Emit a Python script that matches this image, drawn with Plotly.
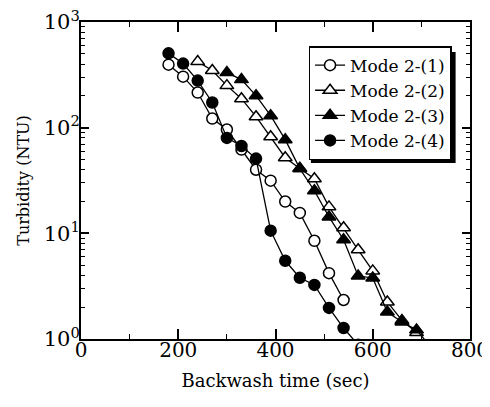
import plotly.graph_objects as go

# Data
t1 = [180, 210, 240, 270, 300, 330, 360, 390, 420, 450, 480, 510, 540]
y1 = [395, 304, 215, 122, 96, 62, 40, 31.5, 20, 15.6, 8.5, 4.2, 2.34]

t2 = [240, 270, 300, 330, 360, 390, 420, 450, 480, 510, 540, 570, 600, 630, 660, 690]
y2 = [422, 347, 250, 188, 127, 82, 52, 41, 32.9, 17.8, 11.3, 6.98, 4.41, 2.24, 1.5, 1.15]

t3 = [300, 330, 360, 390, 420, 450, 480, 510, 540, 570, 600, 630, 660, 690, 720]
y3 = [332, 285, 201, 130, 77, 41, 25.3, 14.3, 8.7, 3.95, 3.78, 1.80, 1.45, 1.22, 0.83]

t4 = [180, 210, 240, 270, 300, 330, 360, 390, 420, 450, 480, 510, 540, 570]
y4 = [505, 404, 279, 173, 80, 67, 51, 10.6, 5.5, 3.8, 3.25, 1.97, 1.27, 0.88]

names = ["Mode 2-(1)", "Mode 2-(2)", "Mode 2-(3)", "Mode 2-(4)"]
symbols = ["circle-open", "triangle-up-open", "triangle-up", "circle"]
y_tick_vals = [1, 10, 100, 1000]
y_tick_text = ["10<sup>0</sup>", "10<sup>1</sup>", "10<sup>2</sup>", "10<sup>3</sup>"]

FONT = "DejaVu Serif"

fig = go.Figure()
for t, y, n, s in zip([t1, t2, t3, t4], [y1, y2, y3, y4], names, symbols):
    is_open = s.endswith("open")
    fig.add_trace(go.Scatter(
        x=t, y=y, name=n, mode="lines+markers",
        line=dict(color="black", width=1.3),
        marker=dict(symbol=s.replace("-open", ""),
                    size=11 if "circle" in s else 12,
                    color="white" if is_open else "black",
                    line=dict(color="black", width=1.5)),
        cliponaxis=True,
    ))

# drop shadow behind the legend box
fig.add_shape(type="rect", xref="paper", yref="paper",
              x0=0.591, x1=0.963, y0=0.555, y1=0.905,
              fillcolor="black", line=dict(width=0), layer="above")

fig.update_layout(
    width=490, height=407,
    margin=dict(l=73, r=28, t=14, b=76),
    paper_bgcolor="white", plot_bgcolor="white",
    font=dict(family=FONT, size=18, color="black"),
    showlegend=True,
    legend=dict(
        x=0.585, y=0.924, xanchor="left", yanchor="top",
        bgcolor="white", bordercolor="black", borderwidth=1.5,
        font=dict(family=FONT, size=17, color="black"),
        tracegroupgap=0, itemwidth=30,
    ),
    xaxis=dict(
        range=[0, 800], dtick=200, tick0=0, automargin=False,
        ticks="inside", ticklen=10, tickwidth=1.5, tickcolor="black",
        minor=dict(dtick=100, ticks="inside", ticklen=5, tickwidth=1.2, tickcolor="black", showgrid=False),
        showline=True, linewidth=2, linecolor="black", mirror="ticks",
        showgrid=False, zeroline=False, ticklabelstandoff=-8, ticklabeloverflow="allow",
        tickfont=dict(family=FONT, size=20, color="black"),
        title=dict(text="Backwash time (sec)", font=dict(family=FONT, size=18, color="black"), standoff=13),
    ),
    yaxis=dict(
        type="log", range=[0, 3], automargin=False,
        tickmode="array", tickvals=y_tick_vals, ticktext=y_tick_text,
        ticks="inside", ticklen=8, tickwidth=1.5, tickcolor="black",
        minor=dict(dtick="D1", ticks="inside", ticklen=4, tickwidth=1.2, tickcolor="black", showgrid=False),
        showline=True, linewidth=2, linecolor="black", mirror="ticks",
        showgrid=False, zeroline=False, ticklabeloverflow="allow", ticklabelstandoff=-5,
        tickfont=dict(family=FONT, size=21, color="black"),
        title=dict(text="Turbidity (NTU)", font=dict(family=FONT, size=16, color="black"), standoff=10),
    ),
)

fig.write_html("out.html")
